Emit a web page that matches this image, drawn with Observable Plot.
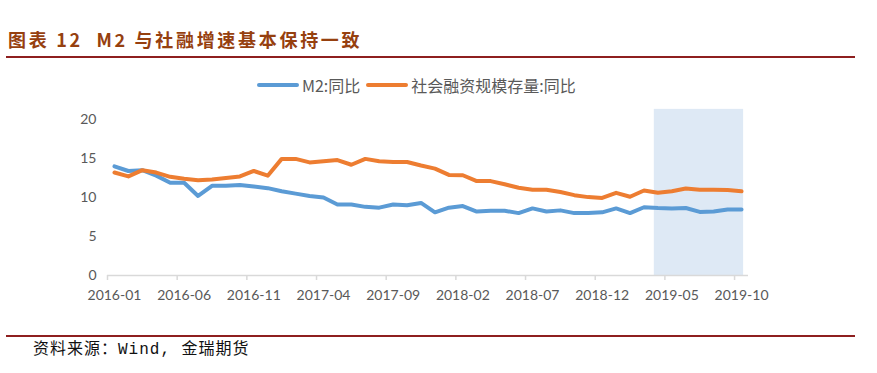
<!DOCTYPE html>
<html>
<head>
<meta charset="utf-8">
<script src="https://cdn.jsdelivr.net/npm/d3@7"></script>
<script src="https://cdn.jsdelivr.net/npm/@observablehq/plot@0.6"></script>
<style>
  html, body { margin: 0; padding: 0; background: #fff; width: 877px; height: 373px; overflow: hidden; }
  #title { position: absolute; left: 8px; top: 25px; font-family: "Noto Sans CJK SC", sans-serif; font-weight: 700; font-size: 18px; color: #96400f; letter-spacing: 2.7px; white-space: pre; line-height: 28px; }
  .rule { position: absolute; left: 6px; width: 849px; height: 2px; background: #8e1f1f; }
  #legend { position: absolute; top: 75px; left: 257px; font-family: "Noto Sans CJK SC", sans-serif; font-size: 16px; color: #595959; display: flex; align-items: center; height: 20px; white-space: nowrap; }
  .sw { display: inline-block; width: 42px; height: 4px; border-radius: 2px; margin-right: 3px; }
  .lab { margin-right: 6px; }
  #chart { position: absolute; left: 0; top: 100px; }
  #source { position: absolute; left: 33px; top: 339px; font-family: "Liberation Mono", "Noto Sans CJK SC", monospace; font-size: 16px; letter-spacing: 1px; color: #111; white-space: pre; line-height: 22px; }
</style>
</head>
<body>
<div id="title">图表 12  M2 与社融增速基本保持一致</div>
<div class="rule" style="top:56px"></div>
<div id="legend"></div>
<div id="chart"></div>
<div class="rule" style="top:335px"></div>
<div id="source">资料来源：Wind, 金瑞期货</div>
<script>
// Monthly series, 2016-01 .. 2019-10
const startMonth = "2016-01";
const seriesNames = ["M2:同比", "社会融资规模存量:同比"];
const seriesColors = ["#5b9bd5", "#ed7d31"];
const m2 = [14.0, 13.4, 13.5, 12.8, 11.9, 11.9, 10.2, 11.5, 11.5, 11.6, 11.4, 11.2,
            10.8, 10.5, 10.2, 10.0, 9.1, 9.1, 8.8, 8.7, 9.1, 9.0, 9.3, 8.1,
            8.7, 8.9, 8.2, 8.3, 8.3, 8.0, 8.6, 8.2, 8.35, 8.0, 8.0, 8.1,
            8.6, 8.0, 8.75, 8.65, 8.6, 8.65, 8.15, 8.2, 8.45, 8.45];
const tsf = [13.2, 12.7, 13.5, 13.2, 12.65, 12.4, 12.2, 12.3, 12.5, 12.7, 13.4, 12.8,
             14.95, 14.95, 14.5, 14.65, 14.8, 14.2, 14.95, 14.65, 14.55, 14.55, 14.1, 13.7,
             12.9, 12.85, 12.1, 12.1, 11.7, 11.25, 11.0, 11.0, 10.7, 10.3, 10.05, 9.95,
             10.6, 10.1, 10.9, 10.6, 10.8, 11.15, 11.0, 11.0, 10.95, 10.8];
const tickLabels = ["2016-01", "2016-06", "2016-11", "2017-04", "2017-09", "2018-02", "2018-07", "2018-12", "2019-05", "2019-10"];
const yTicks = [0, 5, 10, 15, 20];
// highlighted period (in month-index units and value units)
const shade = {x1: 38.74, x2: 45.15, y1: 0, y2: 21.3};

// build months
const [sy, sm] = startMonth.split("-").map(Number);
const months = m2.map((_, i) => {
  const t = (sm - 1) + i;
  return `${sy + Math.floor(t / 12)}-${String(t % 12 + 1).padStart(2, "0")}`;
});
const rows = [];
m2.forEach((v, i) => rows.push({i, month: months[i], value: v, series: seriesNames[0]}));
tsf.forEach((v, i) => rows.push({i, month: months[i], value: v, series: seriesNames[1]}));

const labelIdx = tickLabels.map(l => months.indexOf(l));
const tickPos = labelIdx.map(i => i - 0.5);

// legend
const legend = document.getElementById("legend");
seriesNames.forEach((n, k) => {
  const sw = document.createElement("span");
  sw.className = "sw"; sw.style.background = seriesColors[k];
  const lb = document.createElement("span");
  lb.className = "lab"; lb.textContent = n;
  legend.appendChild(sw); legend.appendChild(lb);
});

const chart = Plot.plot({
  width: 877,
  height: 210,
  marginLeft: 107,
  marginRight: 129,
  marginTop: 19,
  marginBottom: 35,
  style: {fontFamily: "Lato, 'Liberation Sans', sans-serif", fontSize: "14px", color: "#595959", background: "transparent"},
  x: {type: "linear", domain: [-0.5, months.length - 0.5]},
  y: {domain: [0, 20]},
  color: {domain: seriesNames, range: seriesColors},
  marks: [
    Plot.rect([shade], {x1: "x1", x2: "x2", y1: "y1", y2: "y2", fill: "#dee9f5"}),
    Plot.ruleY([0], {stroke: "#d9d9d9", strokeWidth: 1.5}),
    Plot.axisX({ticks: tickPos, tickSize: 5, tickFormat: () => "", stroke: "#d9d9d9", strokeWidth: 1.5}),
    Plot.axisX({ticks: labelIdx, tickSize: 0, tickPadding: 15, tickFormat: i => months[i], fill: "#595959", label: null}),
    Plot.axisY({ticks: yTicks, tickSize: 0, tickPadding: 11, fill: "#595959", label: null}),
    Plot.line(rows, {x: "i", y: "value", z: "series", stroke: "series", strokeWidth: 4, strokeLinejoin: "round", strokeLinecap: "round"})
  ]
});
document.getElementById("chart").appendChild(chart);
</script>
</body>
</html>
